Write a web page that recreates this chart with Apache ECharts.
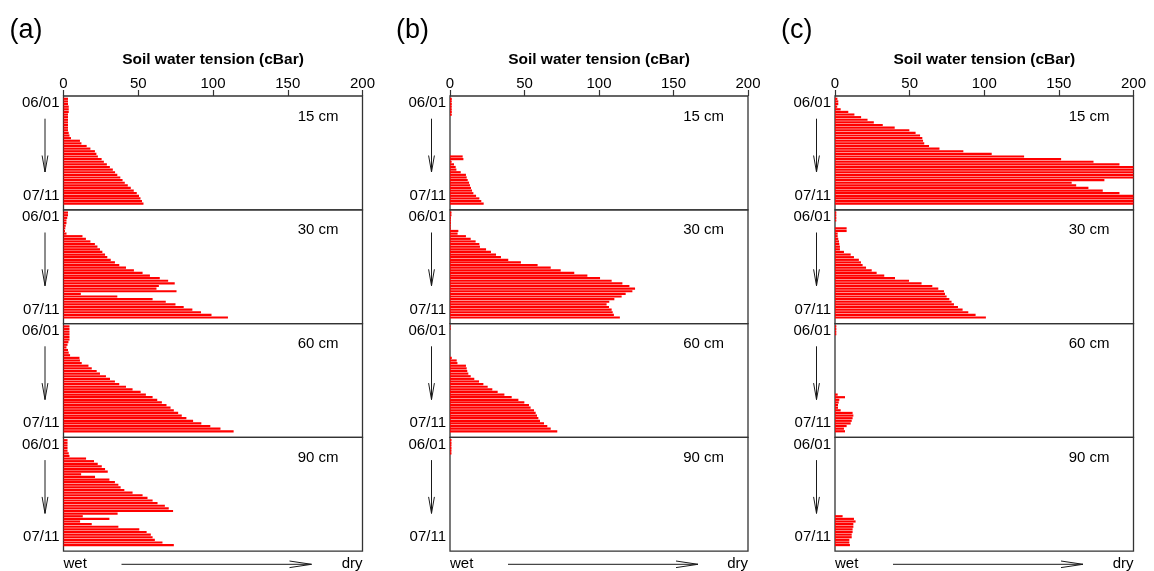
<!DOCTYPE html>
<html>
<head>
<meta charset="utf-8">
<script src="https://cdn.jsdelivr.net/npm/echarts@6/dist/echarts.min.js"></script>
<style>
  html, body { margin: 0; padding: 0; background: #fff; }
  #chart { width: 1154px; height: 571px; }
</style>
</head>
<body>
<div id="chart"></div>
<script>
// Daily readings, 06/01 .. 07/11
const days = [
  '06/01','06/02','06/03','06/04','06/05','06/06','06/07','06/08','06/09','06/10',
  '06/11','06/12','06/13','06/14','06/15','06/16','06/17','06/18','06/19','06/20',
  '06/21','06/22','06/23','06/24','06/25','06/26','06/27','06/28','06/29','06/30',
  '07/01','07/02','07/03','07/04','07/05','07/06','07/07','07/08','07/09','07/10',
  '07/11'
];

// Start / end labels on the date axis (blank rows are spacing)
const dateTicks = ['', '06/01', '', '', '', '', '', '', '', '', '', '', '', '', '07/11', '', ''];
const tensionTicks = [0, 50, 100, 150, 200];
const depths = ['15 cm', '30 cm', '60 cm', '90 cm'];
const panelTags = ['(a)', '(b)', '(c)'];

// Soil water tension (cBar), site (a)
const a15 = [3, 3, 3, 3.5, 3.5, 3.5, 3, 3, 3, 3, 3, 3, 3, 3.5, 4, 5,
  11, 12, 15.5, 18, 21, 22, 23, 25.5, 27, 29, 31, 33, 34.5, 36, 38, 39.5, 41, 43, 45, 47, 49, 50.5, 51.5, 52.5, 53.5];
const a30 = [3, 3, 2.5, 2, 2, 1.5, 1.2, 1, 2,
  12.7, 15, 18, 21, 22.7, 24.4, 26, 27.8, 29.3, 31.6,
  34.4, 37.3, 41.8, 47.1, 52.9, 57.8, 64.4, 70, 74.4, 63.8,
  62.2, 75.6, 11.6, 36, 59.6, 68.4, 74.9, 80.4, 86.2, 92, 99, 110];
const a60 = [4, 4, 4, 4, 4, 4, 3.3, 2.7, 2, 3, 3.5, 4.4,
  10.7, 11, 12.2, 16.7, 18.9, 22.2, 24.4, 28.4, 31.1, 34.4, 37.3, 41.8, 46.2, 51.6, 55.1,
  59.6, 62.7, 65.8, 68.9, 71.6, 73.8, 76.7, 79.1, 82.2, 86.7, 92.2, 98.2, 105, 113.8];
const a90 = [2.7, 2.7, 2.7, 2.7, 2.7, 3.5, 4,
  15.1, 20.4, 22.9, 25.6, 27.8, 29.6, 11.8, 21.1, 30.7, 34.4,
  36.7, 38.2, 40.7, 46.2, 52.9, 56.2, 59.6, 62.9, 67.8, 70.4,
  73.3, 36.2, 12.9, 30.7, 11.1, 18.9, 36.7, 50.7, 55.6, 58.4,
  59.6, 61.1, 66.2, 73.8];

// Site (b)
const b15 = [1.2, 1.2, 1.2, 1.2, 1.2, 1.2, 1.2,
  0, 0, 0, 0, 0, 0, 0, 0, 0, 0, 0, 0, 0, 0, 0,
  8.5, 9, 1.1, 2.7, 3.8, 4.3, 7.2, 10.7, 11.2, 11.9, 12.8, 13.4, 14.1, 14.8, 15.7, 17.5, 19.7, 21, 22.6];
const b30 = [1, 1, 0.6, 0.6, 0.6, 0.5, 0.5,
  5.6, 5.1, 10.7, 13.9, 17.2, 19.7, 20.1, 24.2, 27.5, 30.9, 34.2, 39.1, 47.6, 58.8, 67.6, 74.3,
  83.4, 92.2, 100.7, 108.5, 115.7, 120.4, 124.2, 122.4, 117.9, 115.2, 110.3, 106.9, 105.1, 106.7,
  108.5, 109.2, 110, 114];
const b60 = [0.4, 0.4, 0, 0, 0, 0, 0, 0, 0, 0, 0, 0,
  1.2, 4.5, 5, 10.7, 11.2, 11.6, 12.3, 13.9, 16.3, 19.5, 22.4, 25.3, 28.4, 32, 36.5, 41.4,
  45.9, 49.9, 53, 54.1, 56.4, 57.5, 58.4, 59.3, 60.4, 63.1, 65.3, 67.6, 72];
const b90 = [1, 1, 1, 1, 1, 1, 0, 0, 0, 0, 0, 0, 0, 0, 0, 0, 0, 0, 0, 0,
  0, 0, 0, 0, 0, 0, 0, 0, 0, 0, 0, 0, 0, 0, 0, 0, 0, 0, 0, 0, 0];

// Site (c)
const c15 = [1.6, 2.2, 2.2, 1.5, 3.8, 8.9, 13, 17.5, 21.8, 26,
  32, 40, 49.8, 54, 57, 58.5, 59, 59.8, 63, 70,
  86, 105, 126.7, 151.5, 173.2, 190.6, 200, 200, 200, 200,
  200, 180.5, 158.6, 161.6, 169.8, 179.4, 190.6, 200, 200, 200, 200];
const c30 = [0.9, 0.9, 0.9, 0.9, 0, 0, 7.8, 7.8, 1.8, 1.8,
  2.2, 2.7, 2.9, 3.3, 3.3, 6, 10.5, 12.7, 16, 17.4,
  18.5, 20.8, 24.6, 27.9, 33, 40.2, 49.6, 58, 65.2, 69.2,
  73, 73.7, 74.8, 76.6, 78.1, 79.7, 82.4, 85.5, 89.3, 94.2, 101.1];
const c60 = [0.9, 0.9, 0.9, 0.9, 0, 0, 0, 0, 0, 0, 0, 0, 0, 0, 0, 0, 0, 0, 0, 0, 0, 0, 0, 0, 0, 0,
  1.8, 6.7, 2.9, 2.5, 2, 2, 3.8, 11.8, 12.3, 11.8, 11.2, 10.5, 7.8, 6, 6.7];
const c90 = [0, 0, 0, 0, 0, 0, 0, 0, 0, 0, 0, 0, 0, 0, 0, 0, 0, 0, 0, 0, 0, 0, 0, 0, 0, 0, 0, 0, 0,
  5.1, 12.7, 13.8, 12.3, 12.3, 11.8, 11.8, 11.2, 11.2, 9.6, 9.6, 10];

// ---- layout ----
const FONT = '"Liberation Sans", Arial, Helvetica, sans-serif';
const PANEL_TOP = 96;
const SUB_H = 113.8;
const BAR_OFFSET = 1.5;
const BAR_SPAN = 107.5;
const FRAME_COLOR = '#333';
const INK = '#1a1a1a';

const panels = [
  { tag: panelTags[0], left: 63.5, width: 299, data: [a15, a30, a60, a90] },
  { tag: panelTags[1], left: 450, width: 298, data: [b15, b30, b60, b90] },
  { tag: panelTags[2], left: 835, width: 298.5, data: [c15, c30, c60, c90] }
];

const option = {
  animation: false,
  textStyle: { fontFamily: FONT },
  grid: [], xAxis: [], yAxis: [], series: [],
  graphic: { elements: [] }
};

function txt(x, y, text, size, align, extra) {
  return Object.assign({
    type: 'text', x: x, y: y, silent: true,
    style: {
      text: text, fill: '#000', fontSize: size, fontFamily: FONT,
      align: align, verticalAlign: 'middle',
      textAlign: align, textVerticalAlign: 'middle'
    }
  }, extra || {});
}

panels.forEach(function (pnl) {
  const L = pnl.left, W = pnl.width;
  const els = option.graphic.elements;

  els.push(txt(L - 54, 31, pnl.tag, 27, 'left'));

  pnl.data.forEach(function (vals, s) {
    const top = PANEL_TOP + s * SUB_H;
    const frameIdx = option.grid.length;
    const barIdx = frameIdx + 1;

    // framed sub-panel carrying the date labels (and the tension scale on top)
    option.grid.push({
      left: L, top: top, width: W, height: SUB_H,
      show: true, borderColor: FRAME_COLOR, borderWidth: 1.3,
      backgroundColor: 'rgba(0,0,0,0)'
    });
    // plotting area for the daily bars
    option.grid.push({ left: L, top: top + BAR_OFFSET, width: W, height: BAR_SPAN });

    option.xAxis.push({
      type: 'value', gridIndex: frameIdx, position: 'top',
      min: tensionTicks[0], max: tensionTicks[tensionTicks.length - 1], interval: 50,
      show: s === 0,
      axisLine: { show: false },
      axisTick: { show: true, length: 6, lineStyle: { color: FRAME_COLOR, width: 1.2 } },
      axisLabel: { fontSize: 15, color: '#000', margin: 5 },
      splitLine: { show: false },
      name: s === 0 ? 'Soil water tension (cBar)' : '',
      nameLocation: 'middle', nameGap: 28,
      nameTextStyle: { fontSize: 15.5, fontWeight: 'bold', color: '#000' }
    });
    option.yAxis.push({
      type: 'category', gridIndex: frameIdx, data: dateTicks,
      boundaryGap: false, inverse: true,
      axisLine: { show: false }, axisTick: { show: false },
      axisLabel: { interval: 0, fontSize: 15, color: '#000', margin: 4 },
      splitLine: { show: false }
    });

    option.xAxis.push({ type: 'value', gridIndex: barIdx, min: 0, max: 200, show: false });
    option.yAxis.push({ type: 'category', gridIndex: barIdx, data: days, inverse: true, show: false });

    option.series.push({
      type: 'bar', xAxisIndex: barIdx, yAxisIndex: barIdx,
      data: vals, barCategoryGap: '17%', silent: true,
      itemStyle: { color: '#ff0000' }
    });

    // depth tag
    els.push(txt(L + W - 24, top + 20.5, depths[s], 15, 'right'));

    // time-direction arrow
    const ax = L - 18.5;
    els.push({ type: 'line', silent: true,
      shape: { x1: ax, y1: top + 22.7, x2: ax, y2: top + 76 },
      style: { stroke: INK, lineWidth: 1 } });
    els.push({ type: 'polyline', silent: true,
      shape: { points: [[ax - 2.9, top + 59.5], [ax, top + 76], [ax + 2.9, top + 59.5]] },
      style: { stroke: INK, lineWidth: 1, fill: null } });
  });

  // wet -> dry legend under the panel
  const by = 564.3;
  els.push(txt(L, by, 'wet', 15, 'left'));
  els.push(txt(L + W, by, 'dry', 15, 'right'));
  els.push({ type: 'line', silent: true,
    shape: { x1: L + 58, y1: by, x2: L + 248, y2: by },
    style: { stroke: INK, lineWidth: 1 } });
  els.push({ type: 'polyline', silent: true,
    shape: { points: [[L + 226, by - 3.3], [L + 248, by], [L + 226, by + 3.3]] },
    style: { stroke: INK, lineWidth: 1, fill: null } });
});

const chart = echarts.init(document.getElementById('chart'), null, { renderer: 'canvas' });
chart.setOption(option);
</script>
</body>
</html>
